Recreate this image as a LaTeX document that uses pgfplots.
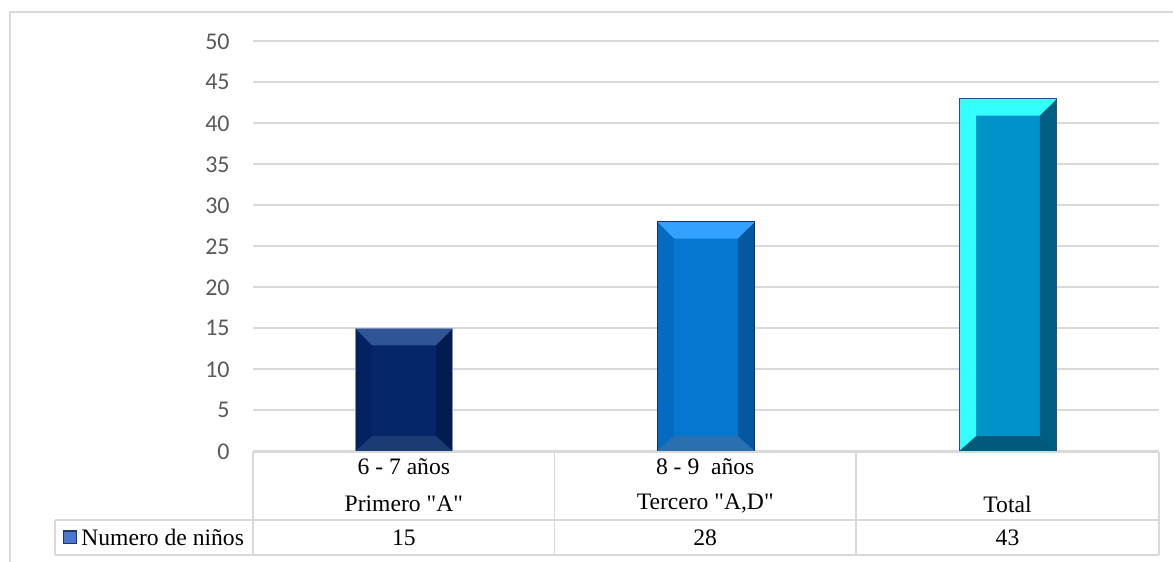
\documentclass[border=0pt]{standalone}
\usepackage{pgfplots}
\pgfplotsset{compat=1.18}
\usepackage{fontspec}
\setmainfont{Liberation Serif}[Ligatures=TeXOff]
\newfontfamily\tickfont{Carlito}
\definecolor{gridgray}{HTML}{D9D9D9}
\definecolor{ticktext}{HTML}{595959}
% bar 1
\definecolor{aMain}{HTML}{052669}
\definecolor{aTop}{HTML}{2F5597}
\definecolor{aLeft}{HTML}{042262}
\definecolor{aRight}{HTML}{021C50}
\definecolor{aBot}{HTML}{1C3A73}
\definecolor{aLine}{HTML}{7F90B8}
% bar 2
\definecolor{bMain}{HTML}{0577D1}
\definecolor{bTop}{HTML}{33A1FF}
\definecolor{bLeft}{HTML}{056BC0}
\definecolor{bRight}{HTML}{0458A0}
\definecolor{bBot}{HTML}{2A6FB0}
\definecolor{bLine}{HTML}{12306E}
% bar 3
\definecolor{cMain}{HTML}{0093C9}
\definecolor{cTop}{HTML}{33FFFF}
\definecolor{cRight}{HTML}{005E82}
\definecolor{cBot}{HTML}{005A7C}
\definecolor{cLine}{HTML}{2A4A90}
\definecolor{legfill}{HTML}{4A78D0}
\definecolor{legline}{HTML}{1F3864}
\begin{document}
\begin{tikzpicture}[x=1pt,y=1pt]
\useasboundingbox (0,0) rectangle (586.5,281);
\draw[color=gridgray, line width=0.8pt] (5,0) -- (5,275) -- (586.5,275);
\begin{axis}[
  at={(126.5pt,55.35pt)}, anchor=south west,
  scale only axis, width=453pt, height=205pt,
  xmin=-0.5, xmax=2.5, ymin=0, ymax=50,
  xtick=\empty, ytick={0,5,...,50},
  axis line style={draw=none},
  major tick length=0pt,
  ymajorgrids, grid style={gridgray, line width=0.9pt},
  yticklabel style={font=\tickfont\fontsize{12}{14}\selectfont, text=ticktext, anchor=east, inner sep=0pt, xshift=-11.5pt},
  /pgf/number format/assume math mode=true,
  clip=false,
]
% bar faces
\addplot[ybar, bar width=0.323, fill=aMain, draw=none] coordinates {(0,15)};
\addplot[ybar, bar width=0.323, fill=bMain, draw=none] coordinates {(1,28)};
\addplot[ybar, bar width=0.323, fill=cMain, draw=none] coordinates {(2,43)};
% bar 1 bevels
\addplot[fill=aLeft, draw=none] coordinates {(-0.1616,15) (-0.1616,0) (-0.1053,1.85) (-0.1053,12.93)} -- cycle;
\addplot[fill=aRight, draw=none] coordinates {(0.1616,15) (0.1616,0) (0.1053,1.85) (0.1053,12.93)} -- cycle;
\addplot[fill=aTop, draw=none] coordinates {(-0.1616,15) (0.1616,15) (0.1053,12.93) (-0.1053,12.93)} -- cycle;
\addplot[fill=aBot, draw=none] coordinates {(-0.1616,0) (0.1616,0) (0.1053,1.85) (-0.1053,1.85)} -- cycle;
% bar 2 bevels
\addplot[fill=bLeft, draw=none] coordinates {(0.8384,28) (0.8384,0) (0.8947,1.85) (0.8947,25.93)} -- cycle;
\addplot[fill=bRight, draw=none] coordinates {(1.1616,28) (1.1616,0) (1.1053,1.85) (1.1053,25.93)} -- cycle;
\addplot[fill=bTop, draw=none] coordinates {(0.8384,28) (1.1616,28) (1.1053,25.93) (0.8947,25.93)} -- cycle;
\addplot[fill=bBot, draw=none] coordinates {(0.8384,0) (1.1616,0) (1.1053,1.85) (0.8947,1.85)} -- cycle;
% bar 3 bevels
\addplot[fill=cTop, draw=none] coordinates {(1.8384,43) (1.8384,0) (1.8947,1.85) (1.8947,40.93)} -- cycle;
\addplot[fill=cRight, draw=none] coordinates {(2.1616,43) (2.1616,0) (2.1053,1.85) (2.1053,40.93)} -- cycle;
\addplot[fill=cTop, draw=none] coordinates {(1.8384,43) (2.1616,43) (2.1053,40.93) (1.8947,40.93)} -- cycle;
\addplot[fill=cBot, draw=none] coordinates {(1.8384,0) (2.1616,0) (2.1053,1.85) (1.8947,1.85)} -- cycle;
% outlines
\addplot[ybar, bar width=0.323, fill=none, draw=aLine, line width=0.6pt] coordinates {(0,15)};
\addplot[ybar, bar width=0.323, fill=none, draw=bLine, line width=0.6pt] coordinates {(1,28)};
\addplot[ybar, bar width=0.323, fill=none, draw=cLine, line width=0.6pt] coordinates {(2,43)};
\end{axis}
% data table
\begin{scope}[gridgray, line width=0.9pt]
\draw (126.5,55) -- (579.5,55);
\draw (27.5,21) -- (579.5,21);
\draw (27.5,3.5) -- (579.5,3.5);
\draw (27.5,3.5) -- (27.5,21);
\draw (126.5,3.5) -- (126.5,55);
\draw (277.25,3.5) -- (277.25,55);
\draw (428,3.5) -- (428,55);
\draw (579.5,3.5) -- (579.5,55);
\end{scope}
\begin{scope}[every node/.style={font=\fontsize{11.8}{13}\selectfont, inner sep=0pt}]
\node at (201.9,47.5) {6 - 7 años};
\node at (201.9,29) {Primero "A"};
\node at (352.6,47.5) {8 - 9\ \ años};
\node at (352.6,29) {Tercero "A,D"};
\node at (503.75,29) {Total};
\node at (201.9,12.3) {15};
\node at (352.6,12.3) {28};
\node at (503.75,12.3) {43};
\node[anchor=west] at (40.5,12.3) {Numero de niños};
\end{scope}
\draw[fill=legfill, draw=legline, line width=0.6pt] (31.8,9.1) rectangle (38.2,15.5);
\end{tikzpicture}
\end{document}
